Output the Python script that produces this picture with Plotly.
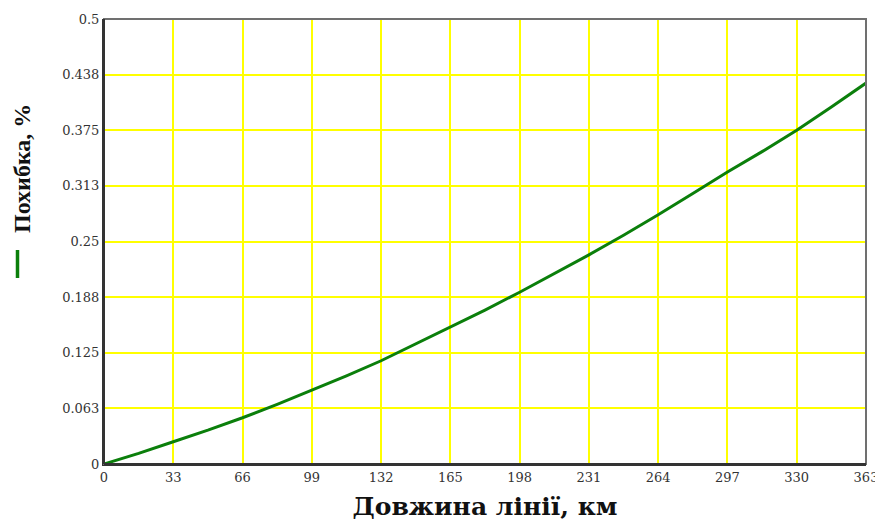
import plotly.graph_objects as go

# Data
length_km = [0, 16.5, 33, 49.5, 66, 82.5, 99, 115.5, 132, 148.5, 165, 181.5, 198,
             214.5, 231, 247.5, 264, 280.5, 297, 313.5, 330, 346.5, 363]
error_pct = [0, 0.012, 0.025, 0.038, 0.052, 0.067, 0.083, 0.099, 0.116, 0.135, 0.154,
             0.173, 0.193, 0.214, 0.235, 0.257, 0.280, 0.304, 0.328, 0.351, 0.375,
             0.401, 0.428]

x_ticks = [0, 33, 66, 99, 132, 165, 198, 231, 264, 297, 330, 363]
y_tickvals = [0, 0.0625, 0.125, 0.1875, 0.25, 0.3125, 0.375, 0.4375, 0.5]
y_ticktext = ["0", "0.063", "0.125", "0.188", "0.25", "0.313", "0.375", "0.438", "0.5"]

GREEN = "#0b7f0b"

fig = go.Figure()
fig.add_trace(go.Scatter(x=length_km, y=error_pct, mode="lines",
                         line=dict(color=GREEN, width=3), showlegend=False))

tickfont = dict(family="DejaVu Serif, serif", size=13, color="#333333")

# page body has an 8px margin, so the figure is 8px smaller and offsets are reduced
fig.update_layout(
    width=875, height=513,
    margin=dict(l=96, r=17, t=11, b=57),
    paper_bgcolor="white", plot_bgcolor="white",
    xaxis=dict(range=[0, 363], tickvals=x_ticks, ticktext=[str(v) for v in x_ticks],
               automargin=False,
               showgrid=True, gridcolor="#ffff00", gridwidth=1.5, zeroline=False,
               showline=True, linecolor="#333333", linewidth=2,
               ticks="", ticklen=0, tickfont=tickfont,
               title=dict(text="<b>Довжина лінії, км</b>",
                          font=dict(family="DejaVu Serif, serif", size=25, color="#111111"),
                          standoff=14)),
    yaxis=dict(range=[0, 0.5], tickvals=y_tickvals, ticktext=y_ticktext,
               automargin=False,
               showgrid=True, gridcolor="#ffff00", gridwidth=1.5, zeroline=False,
               showline=True, linecolor="#333333", linewidth=2,
               ticks="", ticklen=0, tickfont=tickfont),
)

fig.add_shape(type="rect", xref="paper", yref="paper", x0=0, y0=0, x1=1, y1=1,
              line=dict(color="#707070", width=2), layer="above")
fig.add_shape(type="line", xref="paper", yref="paper", x0=0, y0=0, x1=1, y1=0,
              line=dict(color="#333333", width=2), layer="above")
fig.add_shape(type="line", xref="paper", yref="paper", x0=0, y0=0, x1=0, y1=1,
              line=dict(color="#333333", width=2), layer="above")

# legend line sample next to the y title
fig.add_shape(type="line", xref="paper", yref="paper", xsizemode="pixel", xanchor=0,
              x0=-86.5, x1=-86.5, y0=(464 - 278) / 445, y1=(464 - 250) / 445,
              line=dict(color=GREEN, width=3.5))

fig.add_annotation(
    text="<b>Похибка, %</b>",
    xref="paper", yref="paper", x=0, y=(464 - 169) / 445,
    xanchor="center", yanchor="middle", xshift=-82, textangle=-90, showarrow=False,
    font=dict(family="Liberation Serif, Times New Roman, serif", size=24, color="#111111"),
)

fig.write_html("out.html")
